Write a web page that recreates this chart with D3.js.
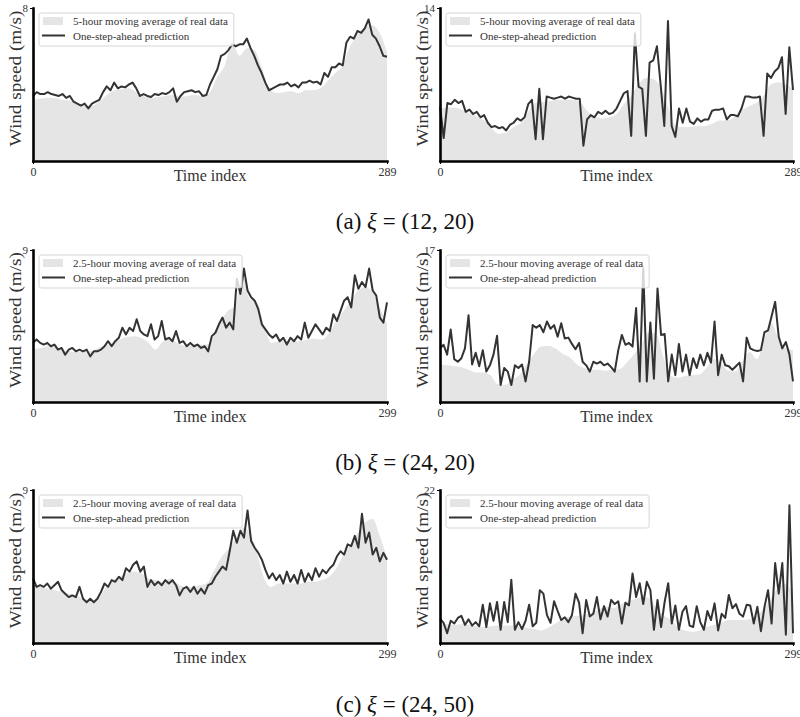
<!DOCTYPE html>
<html>
<head>
<meta charset="utf-8">
<script src="https://cdn.jsdelivr.net/npm/d3@7"></script>
<style>
  body { margin: 0; background: #fff; }
  text { font-family: "Liberation Serif", "DejaVu Serif", serif; }
</style>
</head>
<body>
<script>
// ---- data (values in m/s) ----
const yTopTicks = [8, 14, 9, 17, 9, 22];
const xLastTicks = [289, 289, 299, 299, 299, 299];
const avgLabels = ['5-hour moving average of real data', '2.5-hour moving average of real data', '2.5-hour moving average of real data'];
const predLabel = 'One-step-ahead prediction';
const captionTags = ['a', 'b', 'c'];
const captionXi = ['(12, 20)', '(24, 20)', '(24, 50)'];

// (a) left
const predA1 = [3.4,3.6,3.5,3.5,3.6,3.5,3.45,3.4,3.5,3.3,
  3.4,3.1,3.0,2.9,3.0,2.75,3.0,3.1,3.2,3.6,
  3.9,3.7,4.1,3.8,3.9,3.85,4.0,4.1,3.8,3.4,
  3.5,3.4,3.35,3.5,3.45,3.55,3.5,3.6,3.8,3.1,
  3.4,3.6,3.65,3.7,3.6,3.65,3.4,3.45,4.0,4.4,
  4.8,5.5,5.6,5.8,6.1,6.0,6.1,6.1,6.4,5.9,
  5.5,5.0,4.6,4.1,3.7,3.8,3.9,4.0,4.0,4.1,
  3.9,4.0,3.85,4.1,4.1,4.2,4.1,4.15,4.0,4.6,
  4.4,4.9,4.9,5.1,5.0,6.2,6.5,6.4,6.8,6.7,
  6.95,7.4,6.6,6.4,6.0,5.5,5.45];
const avgA1 = [3.2,3.25,3.3,3.3,3.2,3.15,3.0,2.9,2.9,3.1,
  3.45,3.7,3.75,3.8,3.6,3.4,3.3,3.35,3.4,3.45,
  3.35,3.4,3.45,3.4,3.6,4.4,5.0,6.2,5.5,5.9,
  5.8,4.9,3.8,3.55,3.6,3.65,3.55,3.7,3.7,3.8,
  4.2,4.6,5.0,6.0,6.6,7.0,7.1,6.7,5.7];

// (a) right
const predA2 = [5.0,2.1,5.3,5.2,5.6,5.3,5.5,4.5,4.7,4.3,
  4.5,4.0,4.2,3.5,3.1,3.2,3.0,3.1,2.8,3.3,
  3.5,3.9,3.7,4.0,5.2,5.6,2.0,6.6,2.0,5.9,
  5.8,5.7,5.8,5.9,5.7,5.9,5.8,5.7,5.7,1.4,
  3.8,4.2,4.0,4.5,4.3,4.6,4.3,4.4,4.8,5.5,
  6.2,6.4,2.3,11.7,6.8,6.6,2.3,9.0,9.2,10.5,
  7.0,3.2,12.8,3.2,2.2,4.8,3.5,4.8,3.6,3.4,
  3.9,3.6,3.8,3.8,4.6,4.7,4.7,4.8,3.8,4.2,
  4.2,4.1,4.8,5.9,5.9,5.8,5.8,5.9,2.3,8.0,
  7.6,8.2,8.5,9.5,4.3,10.4,6.5];
const avgA2 = [4.8,4.9,4.9,4.7,4.4,4.1,3.7,3.0,2.5,2.6,
  3.1,3.5,4.5,5.3,5.4,5.5,5.6,5.6,5.6,5.4,
  4.6,4.1,3.9,4.0,4.3,5.2,6.0,7.0,7.6,7.5,
  6.8,5.0,3.3,3.1,3.1,3.2,3.2,3.4,3.7,3.7,
  4.0,4.6,5.0,5.3,6.0,7.0,7.2,7.0,6.6];

// (b) left
const predB1 = [3.5,3.7,3.5,3.4,3.5,3.3,3.4,3.1,3.2,2.8,
  3.1,3.2,3.0,3.1,3.0,3.1,2.7,3.0,3.0,3.1,
  3.3,3.6,3.3,3.6,3.8,4.4,4.0,4.4,4.2,4.9,
  4.2,4.0,3.9,4.6,3.7,3.9,4.8,3.7,3.8,3.6,
  4.2,3.5,3.6,3.3,3.5,3.3,3.4,3.2,3.3,3.0,
  3.9,4.1,4.6,5.0,4.4,4.7,4.3,7.3,6.4,7.9,
  6.6,6.2,6.0,5.5,4.6,4.3,4.0,3.8,4.0,3.6,
  3.8,3.4,3.8,3.6,3.9,3.7,4.7,3.8,4.2,4.6,
  4.3,4.0,4.4,4.2,5.2,4.8,5.4,6.0,6.2,5.6,
  7.5,6.7,7.1,6.8,7.9,6.6,6.3,5.0,4.7,5.9];
const avgB1 = [3.1,3.2,3.3,3.25,3.1,3.0,2.95,3.0,3.0,3.2,
  3.35,3.5,3.7,3.85,3.9,3.8,3.5,3.1,3.6,3.7,
  3.5,3.35,3.4,3.4,3.4,3.9,4.8,5.4,5.7,7.5,
  6.1,5.9,4.5,3.5,3.6,3.65,3.6,3.6,3.7,3.75,
  3.7,4.1,4.8,5.4,6.0,6.6,6.8,6.5,5.6,4.6];

// (b) right
const predB2 = [6.0,6.4,5.3,8.1,4.8,4.5,4.9,6.0,9.7,4.2,
  5.5,4.0,5.8,3.4,4.1,5.3,7.4,1.9,3.8,3.4,
  1.9,4.1,3.8,4.2,2.3,4.5,8.6,8.3,8.6,7.8,
  9.0,8.2,8.6,7.3,8.8,7.1,7.2,6.5,5.9,6.6,
  4.5,4.1,3.4,4.5,4.3,4.5,4.1,4.3,3.9,3.4,
  5.8,7.5,6.4,6.6,6.2,10.5,2.3,15.0,2.3,8.9,
  2.6,12.7,7.5,7.6,2.3,5.3,3.0,6.5,3.4,5.3,
  3.0,4.9,3.8,5.3,4.1,5.5,4.4,9.0,3.0,5.3,
  4.1,4.0,3.6,4.0,4.4,2.3,7.2,6.0,5.8,5.7,
  5.8,7.8,8.0,9.6,11.2,7.3,6.0,6.7,5.3,2.3];
const avgB2 = [4.2,4.1,4.0,3.9,3.6,3.3,3.3,3.0,2.0,1.9,
  2.5,3.0,4.2,5.3,6.2,6.3,6.0,5.4,5.0,4.2,
  3.8,3.6,3.6,3.5,3.6,3.7,4.5,5.4,6.5,7.8,
  7.6,5.0,3.0,2.7,2.9,3.0,3.1,3.8,4.8,4.3,
  3.5,3.4,4.6,5.6,4.8,7.0,8.8,7.0,6.0,5.8];

// (c) left
const predC1 = [3.8,3.3,3.4,3.3,3.5,3.2,3.4,3.6,3.1,2.9,
  2.7,2.8,2.7,3.3,2.6,2.4,2.6,2.4,2.6,3.0,
  3.5,3.3,3.7,3.6,3.9,3.7,4.4,4.2,4.6,4.8,
  4.2,4.5,3.3,3.7,3.4,3.6,3.4,3.7,3.5,3.7,
  3.4,2.8,3.2,3.3,3.0,3.3,2.9,3.2,2.9,3.4,
  3.5,3.9,4.2,4.5,4.3,5.4,6.6,5.9,6.6,6.2,
  7.8,6.0,5.6,5.3,4.9,4.3,3.8,4.1,3.7,4.0,
  3.5,4.2,3.6,4.0,3.5,4.3,3.6,4.1,3.7,4.4,
  3.9,4.3,4.1,4.4,4.6,5.1,5.4,5.2,5.8,5.7,
  6.3,5.6,7.6,5.9,6.5,5.2,5.6,4.8,5.3,4.9];
const avgC1 = [3.3,3.3,3.2,3.1,3.0,2.9,2.8,2.6,2.5,2.6,
  3.2,3.7,3.9,4.1,4.2,4.1,3.8,3.7,3.6,3.8,
  3.5,3.3,3.3,3.4,3.5,4.2,5.0,5.5,6.1,6.8,
  6.5,5.3,3.8,3.3,3.5,3.5,3.5,3.5,3.6,3.6,
  3.7,3.9,4.4,5.2,5.8,6.5,7.1,7.3,6.3,5.0];

// (c) right
const predC2 = [3.5,2.9,1.4,3.2,2.8,3.6,3.9,2.6,3.4,2.5,
  3.0,2.4,5.5,2.3,5.7,3.2,5.9,1.9,5.9,3.0,
  9.1,1.9,3.0,2.0,3.2,5.5,2.4,2.9,7.6,7.1,
  4.0,2.9,6.0,4.6,3.3,3.7,3.0,4.0,7.1,5.8,
  1.4,6.2,3.8,4.2,6.6,3.4,5.3,3.8,6.2,5.6,
  6.0,2.8,5.8,5.4,10.0,6.6,8.6,5.6,8.8,7.6,
  1.9,6.2,2.3,5.9,8.6,2.8,5.4,1.9,4.5,5.3,
  2.5,2.3,5.3,3.0,1.9,4.6,3.3,5.7,1.8,4.2,
  3.6,6.9,5.0,5.6,4.2,3.8,5.5,5.4,2.8,5.2,
  1.7,5.2,7.6,2.8,11.5,7.1,11.5,1.2,19.8,1.4];
const avgC2 = [2.8,2.7,2.6,2.7,2.6,2.4,2.3,2.4,2.5,2.5,
  2.5,2.3,2.2,2.0,1.8,2.2,2.8,3.4,3.8,3.9,
  4.0,4.3,4.8,5.2,5.0,5.5,6.0,6.3,6.6,6.5,
  5.0,4.0,3.4,2.3,1.8,1.6,1.8,2.3,2.6,2.9,
  3.3,3.3,3.3,3.4,4.0,5.0,6.5,8.0,8.5,7.0];

const predSeries = [predA1, predA2, predB1, predB2, predC1, predC2];
const avgSeries = [avgA1, avgA2, avgB1, avgB2, avgC1, avgC2];

// ---- layout ----
const serif = '"Liberation Serif", "DejaVu Serif", serif';
const colX = [[33, 387], [440, 793]];
const rowY = [[8, 161], [250, 402], [490, 643]];
const captionY = [229, 470, 712];

const svg = d3.select('body').append('svg')
  .attr('width', 800)
  .attr('height', 717);

function drawPanel(k) {
  const row = Math.floor(k / 2), col = k % 2;
  const [x0, x1] = colX[col];
  const [y0, y1] = rowY[row];
  const last = xLastTicks[k];
  const yMax = yTopTicks[k];
  const pred = predSeries[k];
  const avg = avgSeries[k];

  const x = d3.scaleLinear().domain([0, last]).range([x0, x1]);
  const y = d3.scaleLinear().domain([0, yMax]).range([y1, y0]);
  // samples are evenly spread over the time index range
  const at = arr => (d, i) => x(i * last / (arr.length - 1));

  const g = svg.append('g');

  g.append('path')
    .datum(avg)
    .attr('fill', '#e5e5e5')
    .attr('d', d3.area().x(at(avg)).y0(y(0)).y1(d => y(d)).curve(d3.curveMonotoneX));

  g.append('path')
    .datum(pred)
    .attr('fill', 'none')
    .attr('stroke', '#333')
    .attr('stroke-width', 2)
    .attr('stroke-linejoin', 'round')
    .attr('d', d3.line().x(at(pred)).y(d => y(d)));

  const ax = g.append('g')
    .attr('transform', `translate(0,${y1})`)
    .call(d3.axisBottom(x).tickValues([0, last]).tickSize(3).tickSizeOuter(0).tickPadding(3));
  const ay = g.append('g')
    .attr('transform', `translate(${x0},0)`)
    .call(d3.axisLeft(y).tickValues([yMax]).tickSize(3).tickSizeOuter(0).tickPadding(2));

  [ax, ay].forEach(a => {
    a.attr('font-family', serif);
    a.select('.domain').attr('stroke', '#000').attr('stroke-width', 2.6).attr('stroke-linecap', 'square');
    a.selectAll('line').attr('stroke', '#000');
    a.selectAll('text').attr('font-family', serif).attr('fill', '#333');
  });
  ax.selectAll('text').attr('font-size', 12);
  ay.selectAll('text').attr('font-size', 11);

  g.append('text')
    .attr('x', (x0 + x1) / 2)
    .attr('y', y1 + 20)
    .attr('text-anchor', 'middle')
    .attr('font-family', serif)
    .attr('font-size', 16)
    .attr('fill', '#333')
    .text('Time index');

  const cy = (y0 + y1) / 2 - 6;
  g.append('text')
    .attr('transform', `translate(${x0 - 12},${cy}) rotate(-90)`)
    .attr('text-anchor', 'middle')
    .attr('font-family', serif)
    .attr('font-size', 16)
    .attr('fill', '#333')
    .attr('textLength', 136)
    .attr('lengthAdjust', 'spacingAndGlyphs')
    .text('Wind speed (m/s)');

  // legend
  const lg = g.append('g').attr('transform', `translate(${x0 + 6},${y0 + 5})`);
  const box = lg.append('rect')
    .attr('x', 0).attr('y', 0)
    .attr('height', 33)
    .attr('rx', 2.5)
    .attr('fill', '#fff')
    .attr('fill-opacity', 0.8)
    .attr('stroke', '#ccc')
    .attr('stroke-width', 0.8);
  lg.append('rect')
    .attr('x', 4).attr('y', 4)
    .attr('width', 20).attr('height', 8)
    .attr('fill', '#e5e5e5');
  lg.append('line')
    .attr('x1', 3).attr('x2', 26)
    .attr('y1', 22.5).attr('y2', 22.5)
    .attr('stroke', '#333')
    .attr('stroke-width', 2);
  const t1 = lg.append('text')
    .attr('x', 34).attr('y', 12)
    .attr('font-family', serif)
    .attr('font-size', 11)
    .attr('fill', '#333')
    .text(avgLabels[row]);
  const t2 = lg.append('text')
    .attr('x', 34).attr('y', 26.5)
    .attr('font-family', serif)
    .attr('font-size', 11)
    .attr('fill', '#333')
    .text(predLabel);
  const w = Math.max(t1.node().getComputedTextLength(), t2.node().getComputedTextLength());
  box.attr('width', 34 + w + 6);
}

d3.range(6).forEach(drawPanel);

captionTags.forEach((tag, i) => {
  const t = svg.append('text')
    .attr('x', 405)
    .attr('y', captionY[i])
    .attr('text-anchor', 'middle')
    .attr('font-family', serif)
    .attr('font-size', 23)
    .attr('fill', '#111');
  t.append('tspan').text(`(${tag}) `);
  t.append('tspan').attr('font-style', 'italic').text('ξ');
  t.append('tspan').text(` = ${captionXi[i]}`);
});
</script>
</body>
</html>
